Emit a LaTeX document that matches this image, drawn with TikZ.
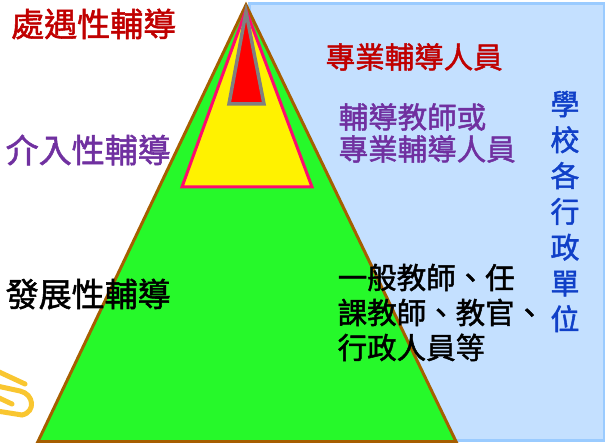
\documentclass[tikz,border=0pt]{standalone}
\usepackage{fontspec}
\newfontfamily\cjk[FakeBold=1.6]{Noto Sans CJK TC}
\definecolor{panelfill}{HTML}{C4E0FF}
\definecolor{paneldraw}{HTML}{9ACBFF}
\definecolor{greenfill}{HTML}{26F92A}
\definecolor{browndraw}{HTML}{A65E00}
\definecolor{pinkdraw}{HTML}{FF0A6E}
\definecolor{graydraw}{HTML}{808080}
\definecolor{redtxt}{HTML}{C00000}
\definecolor{purpletxt}{HTML}{7030A0}
\definecolor{bluetxt}{HTML}{1040C8}
\definecolor{logoyellow}{HTML}{F9C630}
\begin{document}
\begin{tikzpicture}[x=1pt,y=-1pt,
  lbl/.style={inner sep=0pt,anchor=west,font=\cjk\fontsize{33}{36}\selectfont},
  rtxt/.style={inner sep=0pt,anchor=west,align=left},
  logo/.style={draw=logoyellow,line width=5pt,line cap=round}]
\useasboundingbox (0,0) rectangle (605,443);
% panel
\node[draw=paneldraw,fill=panelfill,line width=3pt,inner sep=0pt,minimum width=355pt,minimum height=437pt,anchor=north west] (panel) at (248,2) {};
% logo fragment
\draw[logo] (-3,371) -- (25,384);
\draw[logo] (-3,386) -- (20,391) .. controls (34,394) and (36,412) .. (22,415) -- (-3,411);
\draw[logo] (-3,397) -- (12,404);
% pyramid
\coordinate (oa) at (246,5);
\coordinate (ol) at (38,441.5);
\coordinate (or) at (456,441.5);
\draw[draw=browndraw,fill=greenfill,line width=3pt] (oa) -- (ol) -- (or) -- cycle;
\coordinate (ya) at (246,10);
\coordinate (yl) at (182,187);
\coordinate (yr) at (312,187);
\draw[draw=pinkdraw,fill=yellow,line width=3pt] (ya) -- (yl) -- (yr) -- cycle;
\coordinate (ra) at (246,12);
\coordinate (rl) at (229,104);
\coordinate (rr) at (264,104);
\draw[draw=graydraw,fill=red,line width=3.5pt] (ra) -- (rl) -- (rr) -- cycle;
% left labels
\node[lbl,text=redtxt] (l1) at (11,24) {處遇性輔導};
\node[lbl,text=purpletxt] (l2) at (5.5,150) {介入性輔導};
\node[lbl,text=black] (l3) at (5.5,294) {發展性輔導};
% right texts
\node[rtxt,text=redtxt,font=\cjk\fontsize{29.5}{32}\selectfont] (r1) at (325.5,57) {專業輔導人員};
\node[rtxt,text=purpletxt,font=\cjk\fontsize{29.5}{32}\selectfont] (r2) at (338.5,133) {輔導教師或\\專業輔導人員};
\node[rtxt,text=black,font=\cjk\fontsize{29.5}{35}\selectfont] (r3) at (337.5,312.5) {一般教師、任\\課教師、教官、\\行政人員等};
\node[inner sep=0pt,align=center,text=bluetxt,font=\cjk\fontsize{29}{35.8}\selectfont] (v) at (565,211.5) {學\\校\\各\\行\\政\\單\\位};
\end{tikzpicture}
\end{document}
